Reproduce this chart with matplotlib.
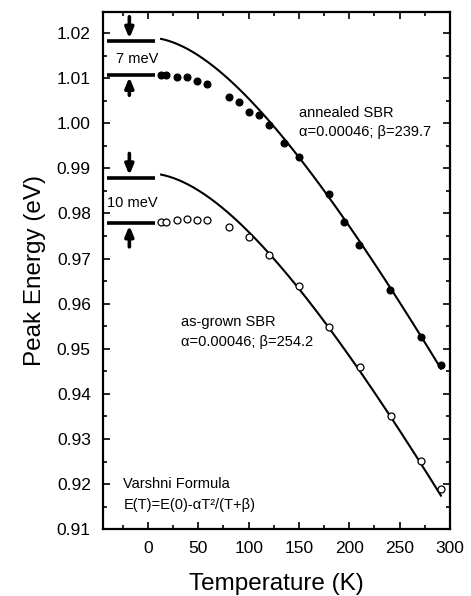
import numpy as np
import matplotlib
matplotlib.use("Agg")
import matplotlib.pyplot as plt

plt.rcParams['font.family'] = ['Liberation Sans', 'DejaVu Sans']

# Annealed SBR (filled circles)
T_ann = [13, 18, 28.5, 39, 49, 59, 80, 90, 100, 110, 120, 135, 150, 180, 195, 210, 240, 271, 291]
E_ann = [1.0106, 1.0106, 1.0103, 1.0103, 1.0094, 1.0086, 1.0058, 1.0046, 1.0025, 1.0018,
         0.9997, 0.9957, 0.9926, 0.9843, 0.9781, 0.9730, 0.9631, 0.9527, 0.9464]
# As-grown SBR (open circles)
T_grown = [13, 18, 28.5, 39, 49, 59, 80, 100, 120, 150, 180, 211, 241, 271, 291]
E_grown = [0.9782, 0.9782, 0.9785, 0.9788, 0.9785, 0.9785, 0.9770, 0.9747, 0.9708,
           0.9639, 0.9549, 0.9459, 0.9352, 0.9251, 0.9190]

# Varshni fit parameters
alpha_ann, beta_ann, E0_ann = 0.00046, 239.7, 1.0190
alpha_grown, beta_grown, E0_grown = 0.00046, 254.2, 0.9889
T_fit_start, T_fit_end = 13, 291

# E(0) marker bars (top / bottom levels)
bars_ann = (1.0182, 1.0108)
bars_grown = (0.9879, 0.9779)

fig = plt.figure(figsize=(4.71, 5.96), dpi=100)
ax = fig.add_axes([0.218, 0.112, 0.7374, 0.8679])

Tf = np.linspace(T_fit_start, T_fit_end, 300)
ax.plot(Tf, E0_ann - alpha_ann * Tf**2 / (Tf + beta_ann), color='black', lw=1.5)
ax.plot(Tf, E0_grown - alpha_grown * Tf**2 / (Tf + beta_grown), color='black', lw=1.5)

ax.plot(T_ann, E_ann, 'o', color='black', ms=4.8, mec='black')
ax.plot(T_grown, E_grown, 'o', mfc='white', mec='black', ms=5.0, mew=0.9)

# bars
for (top, bot) in (bars_ann, bars_grown):
    ax.plot([-41, 7], [top, top], color='black', lw=2.6, solid_capstyle='butt')
    ax.plot([-41, 7], [bot, bot], color='black', lw=2.6, solid_capstyle='butt')

arrow_kw = dict(arrowstyle='-|>,head_width=0.25,head_length=0.6', color='black', lw=2.6,
                shrinkA=0, shrinkB=0)
xa = -18.5
ax.annotate('', xy=(xa, 1.0188), xytext=(xa, 1.0236), arrowprops=arrow_kw)
ax.annotate('', xy=(xa, 1.0102), xytext=(xa, 1.0062), arrowprops=arrow_kw)
ax.annotate('', xy=(xa, 0.9885), xytext=(xa, 0.9933), arrowprops=arrow_kw)
ax.annotate('', xy=(xa, 0.9773), xytext=(xa, 0.9726), arrowprops=arrow_kw)

fs = 10.5
ax.text(-11, 1.0143, '7 meV', ha='center', va='center', fontsize=fs)
ax.text(-16, 0.9824, '10 meV', ha='center', va='center', fontsize=fs)

ax.text(150.5, 1.0022, 'annealed SBR', ha='left', va='center', fontsize=fs)
ax.text(150.5, 0.99814, 'α=0.00046; β=239.7', ha='left', va='center', fontsize=fs)
ax.text(32.5, 0.9559, 'as-grown SBR', ha='left', va='center', fontsize=fs)
ax.text(32.5, 0.95147, 'α=0.00046; β=254.2', ha='left', va='center', fontsize=fs)
ax.text(-24.5, 0.92014, 'Varshni Formula', ha='left', va='center', fontsize=fs)
ax.text(-24.5, 0.91535, 'E(T)=E(0)-αT²/(T+β)', ha='left', va='center', fontsize=fs)

yt = np.round(np.arange(0.91, 1.0201, 0.01), 2)
ax.set_xticks([0, 50, 100, 150, 200, 250, 300])
ax.set_xticks(np.arange(-25, 300, 25), minor=True)
ax.set_yticks(yt)
ax.set_yticks(np.arange(0.915, 1.0245, 0.005), minor=True)
ax.set_yticklabels([f'{v:.2f}' for v in yt])
ax.set_xlim(-45, 300)
ax.set_ylim(0.91, 1.02466)

ax.tick_params(which='both', direction='in', top=True, right=True, width=1.2, labelsize=12.5)
ax.tick_params(which='major', length=5, pad=8.5)
ax.tick_params(which='minor', length=3)
for s in ax.spines.values():
    s.set_linewidth(1.6)

ax.set_xlabel('Temperature (K)', fontsize=17.5, labelpad=12)
ax.set_ylabel('Peak Energy (eV)', fontsize=17.5, labelpad=8)

fig.savefig('out.png', dpi=100)
